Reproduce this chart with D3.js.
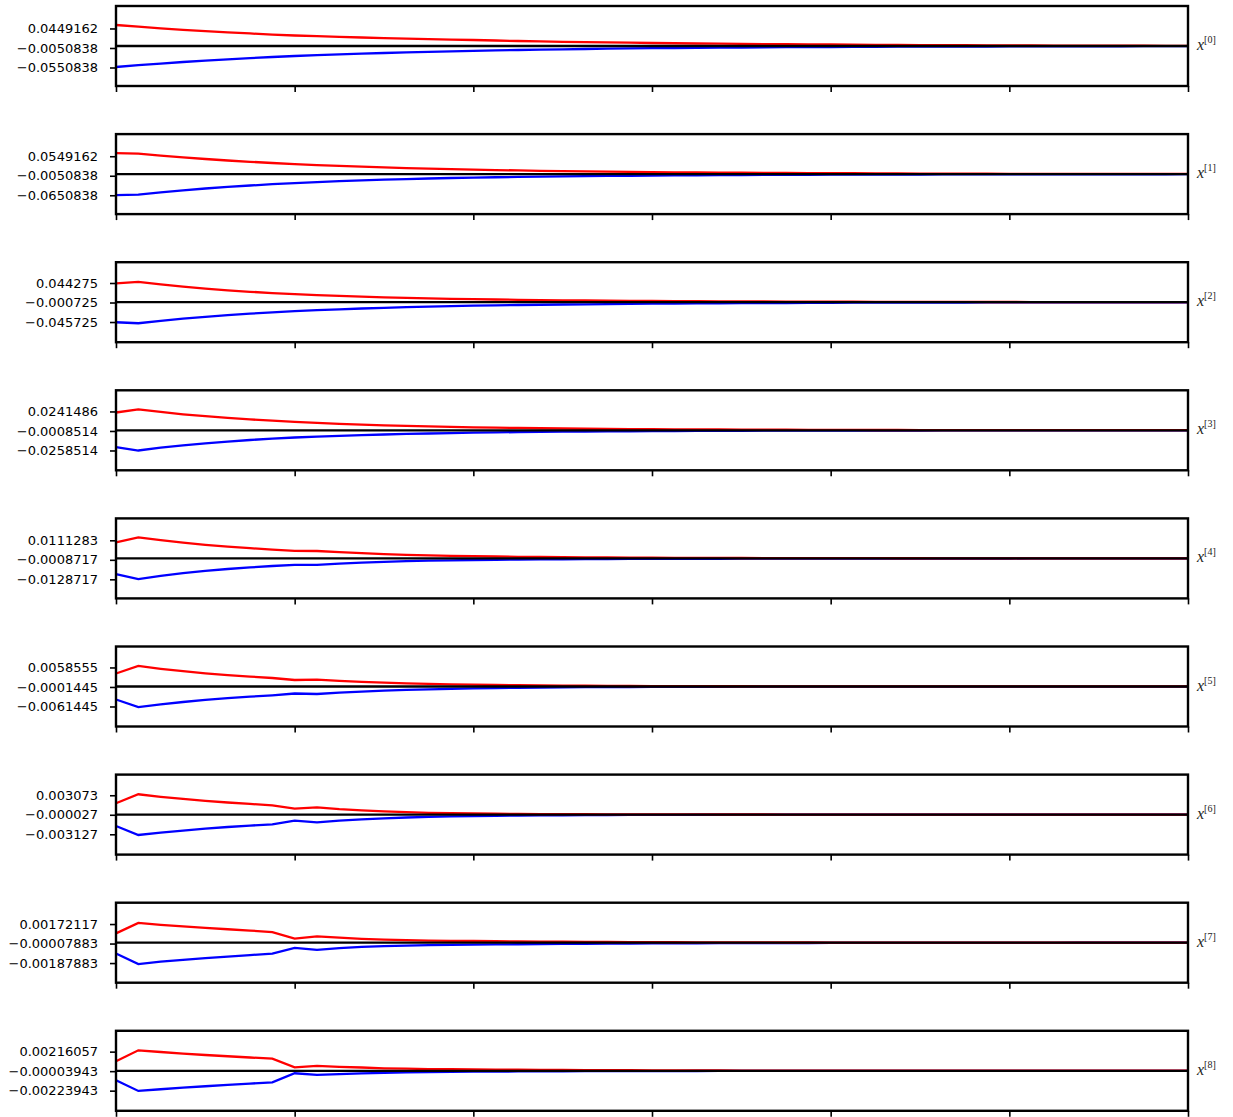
<!DOCTYPE html>
<html>
<head>
<meta charset="utf-8">
<script src="https://cdn.jsdelivr.net/npm/d3@7"></script>
<style>
  body { margin: 0; background: #fff; }
  text { font-family: "DejaVu Sans", sans-serif; }
</style>
</head>
<body>
<svg id="chart" width="1233" height="1117"></svg>
<script>
// Iteration index shared by every state component
const steps = d3.range(49);
const xTicks = [0, 8, 16, 24, 32, 40, 48];

// State component names shown at the right of each panel
const stateNames = ["0", "1", "2", "3", "4", "5", "6", "7", "8"];

// Y tick labels per panel: upper, centre, lower
const tickLabels = [
  ["0.0449162", "\u22120.0050838", "\u22120.0550838"],
  ["0.0549162", "\u22120.0050838", "\u22120.0650838"],
  ["0.044275", "\u22120.000725", "\u22120.045725"],
  ["0.0241486", "\u22120.0008514", "\u22120.0258514"],
  ["0.0111283", "\u22120.0008717", "\u22120.0128717"],
  ["0.0058555", "\u22120.0001445", "\u22120.0061445"],
  ["0.003073", "\u22120.000027", "\u22120.003127"],
  ["0.00172117", "\u22120.00007883", "\u22120.00187883"],
  ["0.00216057", "\u22120.00003943", "\u22120.00223943"]
];

// Symmetric y-limits of each panel
const yLimits = [0.1025, 0.123, 0.09225, 0.05125, 0.0246, 0.0123, 0.006355, 0.00369, 0.00451];

// Upper (red) and lower (blue) bounds of each state component
const upperX0 = [0.0538,0.0495,0.0454,0.0415,0.0379,0.0349,0.0321,0.0292,0.0269,0.0251,0.0233,0.0218,0.0203,0.0190,0.0177,0.0164,0.0154,0.0141,0.0128,0.0118,0.0108,0.0100,0.0092,0.0085,0.0077,0.0071,0.0064,0.0059,0.0054,0.0050,0.0046,0.0042,0.0038,0.0035,0.0031,0.0027,0.0024,0.0022,0.0019,0.0017,0.0014,0.0013,0.0012,0.0010,0.0009,0.0008,0.0006,0.0005,0.0005];
const lowerX0 = [-0.0538,-0.0492,-0.0449,-0.0410,-0.0374,-0.0341,-0.0310,-0.0282,-0.0256,-0.0236,-0.0215,-0.0197,-0.0179,-0.0164,-0.0149,-0.0136,-0.0123,-0.0113,-0.0103,-0.0092,-0.0085,-0.0077,-0.0069,-0.0063,-0.0056,-0.0051,-0.0046,-0.0042,-0.0038,-0.0035,-0.0031,-0.0028,-0.0026,-0.0023,-0.0021,-0.0018,-0.0017,-0.0015,-0.0014,-0.0013,-0.0012,-0.0010,-0.0009,-0.0008,-0.0008,-0.0006,-0.0005,-0.0005,-0.0005];

const upperX1 = [0.0646,0.0631,0.0569,0.0514,0.0465,0.0418,0.0378,0.0342,0.0308,0.0278,0.0252,0.0228,0.0206,0.0186,0.0169,0.0154,0.0138,0.0125,0.0113,0.0102,0.0092,0.0084,0.0076,0.0068,0.0062,0.0056,0.0051,0.0047,0.0043,0.0039,0.0036,0.0033,0.0031,0.0026,0.0023,0.0020,0.0017,0.0015,0.0013,0.0011,0.0009,0.0008,0.0007,0.0006,0.0006,0.0005,0.0005,0.0004,0.0004];
const lowerX1 = [-0.0646,-0.0631,-0.0560,-0.0498,-0.0443,-0.0394,-0.0351,-0.0311,-0.0277,-0.0246,-0.0218,-0.0194,-0.0172,-0.0154,-0.0135,-0.0120,-0.0108,-0.0097,-0.0087,-0.0078,-0.0071,-0.0064,-0.0057,-0.0051,-0.0046,-0.0041,-0.0037,-0.0033,-0.0030,-0.0026,-0.0024,-0.0021,-0.0018,-0.0017,-0.0015,-0.0014,-0.0012,-0.0011,-0.0009,-0.0008,-0.0007,-0.0007,-0.0006,-0.0006,-0.0005,-0.0004,-0.0004,-0.0004,-0.0003];

const upperX2 = [0.0432,0.0469,0.0411,0.0358,0.0314,0.0275,0.0240,0.0210,0.0185,0.0164,0.0145,0.0127,0.0113,0.0099,0.0088,0.0078,0.0069,0.0062,0.0055,0.0049,0.0044,0.0039,0.0035,0.0031,0.0028,0.0025,0.0022,0.0020,0.0018,0.0016,0.0014,0.0013,0.0012,0.0010,0.0009,0.0008,0.0007,0.0007,0.0006,0.0005,0.0005,0.0004,0.0004,0.0004,0.0003,0.0003,0.0003,0.0003,0.0002];
const lowerX2 = [-0.0462,-0.0485,-0.0429,-0.0381,-0.0337,-0.0298,-0.0265,-0.0235,-0.0208,-0.0185,-0.0164,-0.0145,-0.0129,-0.0115,-0.0102,-0.0090,-0.0081,-0.0073,-0.0065,-0.0059,-0.0053,-0.0048,-0.0043,-0.0039,-0.0035,-0.0031,-0.0028,-0.0025,-0.0022,-0.0020,-0.0018,-0.0016,-0.0014,-0.0012,-0.0011,-0.0010,-0.0009,-0.0008,-0.0007,-0.0006,-0.0006,-0.0005,-0.0005,-0.0004,-0.0004,-0.0004,-0.0003,-0.0003,-0.0003];

const upperX3 = [0.0228,0.0267,0.0235,0.0205,0.0181,0.0159,0.0140,0.0123,0.0108,0.0095,0.0083,0.0073,0.0064,0.0056,0.0050,0.0044,0.0038,0.0034,0.0030,0.0026,0.0023,0.0020,0.0018,0.0016,0.0014,0.0012,0.0011,0.0010,0.0009,0.0008,0.0007,0.0006,0.0005,0.00046,0.00041,0.00036,0.00032,0.00028,0.00026,0.00023,0.00021,0.00019,0.00017,0.00015,0.00014,0.00013,0.00012,0.00011,0.0001];
const lowerX3 = [-0.0217,-0.0259,-0.0223,-0.0192,-0.0167,-0.0144,-0.0124,-0.0106,-0.0092,-0.0081,-0.0071,-0.0062,-0.0054,-0.0046,-0.0041,-0.0036,-0.0031,-0.0027,-0.0023,-0.0021,-0.0018,-0.0016,-0.0013,-0.0012,-0.0010,-0.0009,-0.0008,-0.0007,-0.0006,-0.0005,-0.00047,-0.00042,-0.00037,-0.00033,-0.00029,-0.00026,-0.00023,-0.00021,-0.00018,-0.00017,-0.00015,-0.00014,-0.00013,-0.00012,-0.00011,-0.0001,-0.0001,-0.00009,-0.00009];

const upperX4 = [0.00984,0.01292,0.01119,0.00966,0.00836,0.00726,0.00627,0.00541,0.00467,0.00455,0.00381,0.00320,0.00264,0.00221,0.00185,0.00160,0.00135,0.00117,0.00098,0.00086,0.00074,0.00062,0.00055,0.00049,0.00043,0.00037,0.00032,0.00028,0.00025,0.00022,0.00018,0.00016,0.00014,0.00012,0.00011,0.0001,0.00009,0.00007,0.00007,0.00006,0.00006,0.00005,0.00005,0.00005,0.00005,0.00005,0.00005,0.00005,0.00005];
const lowerX4 = [-0.00966,-0.01273,-0.01076,-0.00910,-0.00769,-0.00652,-0.00554,-0.00467,-0.00394,-0.00394,-0.00320,-0.00258,-0.00209,-0.00172,-0.00141,-0.00117,-0.00098,-0.00083,-0.00071,-0.00062,-0.00052,-0.00046,-0.0004,-0.00035,-0.00031,-0.00027,-0.00024,-0.00021,-0.00018,-0.00017,-0.00015,-0.00013,-0.00012,-0.0001,-0.00009,-0.00008,-0.00007,-0.00007,-0.00006,-0.00006,-0.00005,-0.00004,-0.00004,-0.00004,-0.00004,-0.00004,-0.00004,-0.00004,-0.00004];

const upperX5 = [0.0040,0.00631,0.00545,0.00471,0.00406,0.00351,0.00305,0.00262,0.0020,0.00209,0.00172,0.00142,0.00117,0.00095,0.0008,0.00068,0.00055,0.00046,0.00038,0.00032,0.00027,0.00023,0.00019,0.00016,0.00014,0.00011,0.0001,0.00008,0.00007,0.00006,0.00005,0.00004,0.00004,0.00003,0.00003,0.00003,0.00003,0.00003,0.00003,0.00003,0.00003,0.000025,0.000025,0.000025,0.000025,0.000025,0.000025,0.000025,0.000025];
const lowerX5 = [-0.0040,-0.00631,-0.00548,-0.00477,-0.00412,-0.0036,-0.00314,-0.00271,-0.00215,-0.00231,-0.00191,-0.00157,-0.00129,-0.00105,-0.00086,-0.00071,-0.00058,-0.00048,-0.00039,-0.00032,-0.00027,-0.00022,-0.00018,-0.00015,-0.00013,-0.00011,-0.00009,-0.00007,-0.00006,-0.00005,-0.00004,-0.00004,-0.00003,-0.000025,-0.000025,-0.000025,-0.000025,-0.000025,-0.000025,-0.000025,-0.000025,-0.00002,-0.00002,-0.00002,-0.00002,-0.00002,-0.00002,-0.00002,-0.00002];

const upperX6 = [0.0018,0.00323,0.00283,0.0025,0.00218,0.00192,0.00169,0.00148,0.00095,0.00116,0.00087,0.00067,0.00051,0.00038,0.00029,0.00023,0.00018,0.00014,0.00011,0.00009,0.000075,0.00006,0.00005,0.00004,0.000032,0.000027,0.000022,0.000019,0.000016,0.000013,0.000011,0.00001,0.000008,0.000006,0.000006,0.000006,0.000006,0.000006,0.000006,0.000006,0.000006,0.000005,0.000005,0.000005,0.000005,0.000005,0.000005,0.000005,0.000005];
const lowerX6 = [-0.00181,-0.00324,-0.00286,-0.00253,-0.00224,-0.00197,-0.00175,-0.00154,-0.00095,-0.00122,-0.00095,-0.00075,-0.00059,-0.00046,-0.00037,-0.00029,-0.00024,-0.00019,-0.00015,-0.00012,-0.0001,-0.00008,-0.000064,-0.000051,-0.000041,-0.000033,-0.000027,-0.000022,-0.000017,-0.000014,-0.000012,-0.00001,-0.000008,-0.000006,-0.000006,-0.000006,-0.000006,-0.000006,-0.000006,-0.000006,-0.000006,-0.000005,-0.000005,-0.000005,-0.000005,-0.000005,-0.000005,-0.000005,-0.000005];

const upperX7 = [0.00086,0.00183,0.00165,0.0015,0.00136,0.00124,0.00112,0.00098,0.00037,0.00058,0.00046,0.00036,0.00029,0.00024,0.0002,0.000175,0.000157,0.000134,0.000115,0.0001,0.000086,0.000074,0.000064,0.000055,0.000048,0.000042,0.000036,0.000031,0.000027,0.000023,0.00002,0.000018,0.000015,0.000013,0.000011,0.00001,0.000009,0.000008,0.000007,0.000006,0.000006,0.000005,0.000005,0.000005,0.000005,0.000005,0.000005,0.000005,0.000005];
const lowerX7 = [-0.001,-0.00197,-0.00175,-0.00158,-0.00142,-0.00128,-0.00114,-0.001,-0.00047,-0.00066,-0.0005,-0.00039,-0.00031,-0.00027,-0.00023,-0.0002,-0.000185,-0.000162,-0.000143,-0.000127,-0.000113,-0.0001,-0.000088,-0.000078,-0.000068,-0.00006,-0.000053,-0.000046,-0.000041,-0.000036,-0.000031,-0.000028,-0.000024,-0.000021,-0.000018,-0.000017,-0.000015,-0.000013,-0.000011,-0.00001,-0.000009,-0.000008,-0.000007,-0.000006,-0.000006,-0.000006,-0.000006,-0.000005,-0.000005];

const upperX8 = [0.00107,0.00231,0.00212,0.00194,0.00178,0.00164,0.0015,0.00138,0.00039,0.00055,0.00045,0.00037,0.00028,0.00024,0.0002,0.00018,0.000158,0.000135,0.000118,0.000104,0.00009,0.000079,0.000069,0.00006,0.000052,0.000045,0.000039,0.000034,0.000029,0.000026,0.000023,0.000019,0.000017,0.000015,0.000012,0.000011,0.00001,0.000009,0.000008,0.000007,0.000006,0.000006,0.000006,0.000006,0.000006,0.000006,0.000006,0.000006,0.000006];
const lowerX8 = [-0.00107,-0.00227,-0.00208,-0.0019,-0.00174,-0.00159,-0.00144,-0.0013,-0.00028,-0.00046,-0.00037,-0.00029,-0.00023,-0.00017,-0.00014,-0.00012,-0.0001,-0.000087,-0.000074,-0.000064,-0.000055,-0.000047,-0.000041,-0.000035,-0.00003,-0.000026,-0.000023,-0.000019,-0.000017,-0.000015,-0.000012,-0.000011,-0.00001,-0.000009,-0.000009,-0.000009,-0.000009,-0.000009,-0.000009,-0.000009,-0.000009,-0.000007,-0.000007,-0.000007,-0.000007,-0.000007,-0.000007,-0.000007,-0.000007];

const upperBounds = [upperX0, upperX1, upperX2, upperX3, upperX4, upperX5, upperX6, upperX7, upperX8];
const lowerBounds = [lowerX0, lowerX1, lowerX2, lowerX3, lowerX4, lowerX5, lowerX6, lowerX7, lowerX8];

// Layout
const left = 116, right = 1188, firstTop = 6, panelH = 80, panelStep = 128.1;

const svg = d3.select("#chart");
const x = d3.scaleLinear().domain([0, 48]).range([left, right]);
const parseTick = s => +s.replace("\u2212", "-");

stateNames.forEach((name, i) => {
  const g = svg.append("g").attr("transform", `translate(0,${firstTop + i * panelStep})`);
  const y = d3.scaleLinear().domain([-yLimits[i], yLimits[i]]).range([panelH, 0]);

  const line = d3.line().x((d, k) => x(steps[k])).y(d => y(d));

  g.append("path").datum(lowerBounds[i])
    .attr("d", line).attr("fill", "none")
    .attr("stroke", "#0000ff").attr("stroke-width", 2.3);
  g.append("path").datum(upperBounds[i])
    .attr("d", line).attr("fill", "none")
    .attr("stroke", "#ff0000").attr("stroke-width", 2.3);

  // zero reference line
  g.append("line")
    .attr("x1", left).attr("x2", right)
    .attr("y1", y(0)).attr("y2", y(0))
    .attr("stroke", "#000").attr("stroke-width", 2.3);

  // y axis with the three labelled ticks
  const labels = tickLabels[i];
  const vals = labels.map(parseTick);
  const yAxis = d3.axisLeft(y)
    .tickValues(vals)
    .tickFormat(v => labels[vals.indexOf(v)])
    .tickSize(6).tickPadding(12);
  const ya = g.append("g").attr("transform", `translate(${left},0)`).call(yAxis);
  ya.select(".domain").remove();
  ya.selectAll(".tick line").attr("stroke", "#000").attr("stroke-width", 1.6);
  ya.selectAll(".tick text")
    .attr("fill", "#000")
    .style("font-family", "'DejaVu Sans', sans-serif")
    .style("font-size", "13px");

  // x axis: unlabelled ticks
  const xAxis = d3.axisBottom(x).tickValues(xTicks).tickFormat("").tickSize(6);
  const xa = g.append("g").attr("transform", `translate(0,${panelH})`).call(xAxis);
  xa.select(".domain").remove();
  xa.selectAll(".tick line").attr("stroke", "#000").attr("stroke-width", 1.6);

  // frame
  g.append("rect")
    .attr("x", left).attr("y", 0)
    .attr("width", right - left).attr("height", panelH)
    .attr("fill", "none").attr("stroke", "#000").attr("stroke-width", 2.4);

  // component label on the right
  const lbl = g.append("text")
    .attr("x", 1197).attr("y", panelH / 2 + 4)
    .attr("fill", "#222");
  lbl.append("tspan")
    .style("font-family", "'Liberation Serif', serif")
    .style("font-style", "italic")
    .style("font-size", "16px")
    .text("x");
  lbl.append("tspan")
    .attr("dy", -7)
    .style("font-family", "'Liberation Serif', serif")
    .style("font-size", "10px")
    .text(`[${name}]`);
});
</script>
</body>
</html>
